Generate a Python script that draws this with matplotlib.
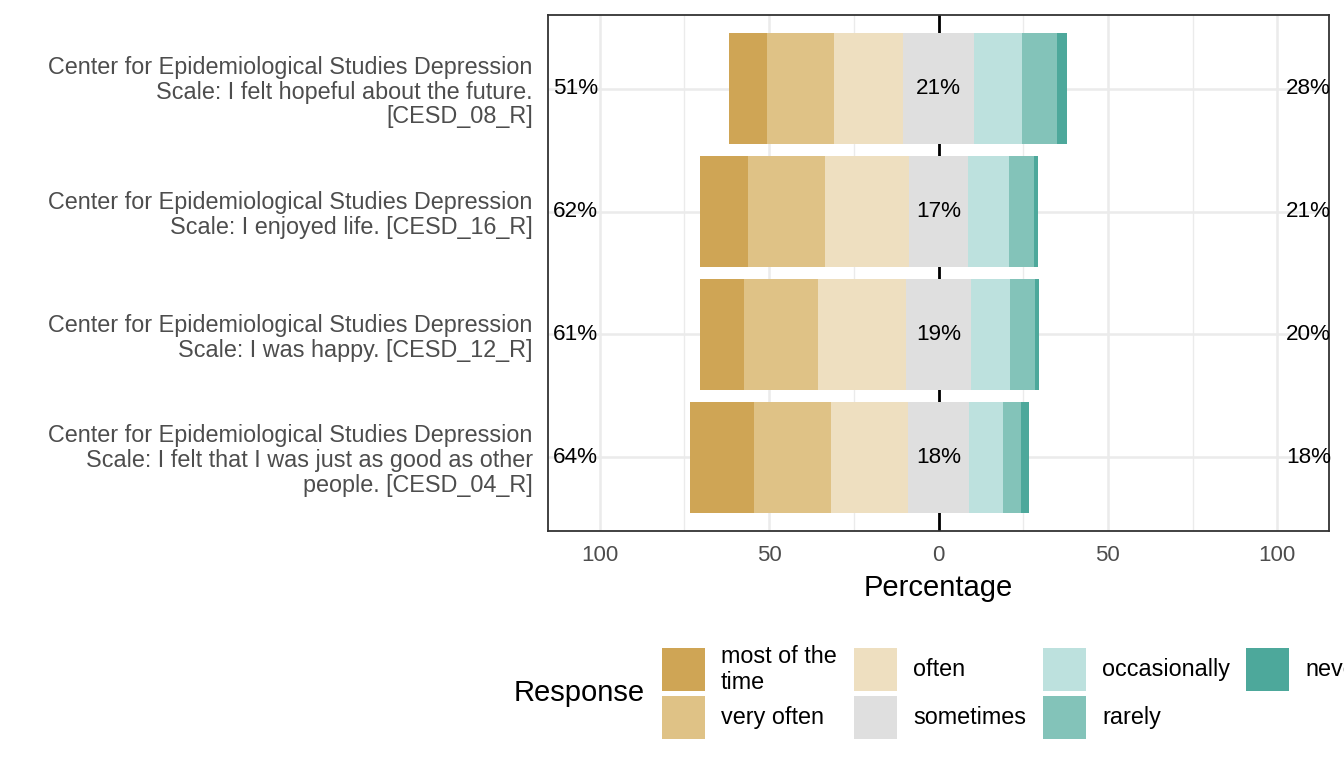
import matplotlib
matplotlib.use("Agg")
import matplotlib.pyplot as plt
from matplotlib.patches import Rectangle
from matplotlib.ticker import FuncFormatter, MultipleLocator

plt.rcParams['font.family'] = ['Liberation Sans', 'DejaVu Sans']

# items, top to bottom
items = [
    "Center for Epidemiological Studies Depression\nScale: I felt hopeful about the future.\n[CESD_08_R]",
    "Center for Epidemiological Studies Depression\nScale: I enjoyed life. [CESD_16_R]",
    "Center for Epidemiological Studies Depression\nScale: I was happy. [CESD_12_R]",
    "Center for Epidemiological Studies Depression\nScale: I felt that I was just as good as other\npeople. [CESD_04_R]",
]
responses = ["most of the time", "very often", "often", "sometimes",
             "occasionally", "rarely", "never"]
legend_labels = ["most of the\ntime", "very often", "often", "sometimes",
                 "occasionally", "rarely", "never"]
colors = ["#CFA555", "#DFC286", "#EEDFC0", "#DFDFDF", "#BDE1DE", "#83C3B9", "#4DA89B"]

# percent per response, one list per item (same order as items)
most_of_time = [11.3, 14.1, 12.9, 18.9]
very_often = [19.7, 22.8, 21.9, 22.8]
often = [20.4, 24.8, 26.1, 22.7]
sometimes = [20.9, 17.4, 19.1, 18.0]
occasionally = [14.3, 12.1, 11.5, 10.0]
rarely = [10.3, 7.4, 7.4, 5.4]
never = [3.0, 1.1, 1.1, 2.3]

series = [most_of_time, very_often, often, sometimes, occasionally, rarely, never]
n = len(items)
ypos = [n - 1 - i for i in range(n)]

fig = plt.figure(figsize=(13.44, 7.68), dpi=100)
ax = fig.add_axes([548 / 1344, 1 - 531 / 768, (1329 - 548) / 1344, (531 - 15) / 768])

# grid
ax.set_xticks([-100, -50, 0, 50, 100])
ax.xaxis.set_minor_locator(MultipleLocator(25))
ax.set_yticks(ypos)
ax.set_yticklabels(items)
ax.grid(True, which='major', color='#EBEBEB', lw=1.8, zorder=0)
ax.grid(True, which='minor', axis='x', color='#EBEBEB', lw=1.0, zorder=0)
ax.set_axisbelow(True)
ax.axvline(0, color='black', lw=2, zorder=1)

# stacked diverging bars
for i in range(n):
    left = -(most_of_time[i] + very_often[i] + often[i] + sometimes[i] / 2)
    for k, vals in enumerate(series):
        ax.barh(ypos[i], vals[i], left=left, height=0.9, color=colors[k], zorder=2)
        left += vals[i]
    low = most_of_time[i] + very_often[i] + often[i]
    high = occasionally[i] + rarely[i] + never[i]
    ax.text(-100.5, ypos[i], f"{round(low)}%", ha='right', va='center', fontsize=16.2, zorder=3)
    ax.text(0, ypos[i], f"{round(sometimes[i])}%", ha='center', va='center', fontsize=16.2, zorder=3)
    ax.text(102.6, ypos[i], f"{round(high)}%", ha='left', va='center', fontsize=16.2, zorder=3, clip_on=False)

ax.set_xlim(-115.3, 115.3)
ax.set_ylim(-0.6, n - 1 + 0.6)
ax.xaxis.set_major_formatter(FuncFormatter(lambda v, p: f"{abs(v):.0f}"))
ax.tick_params(axis='x', which='both', length=0, pad=10, labelsize=16, labelcolor='#4D4D4D')
ax.tick_params(axis='y', length=0, pad=11, labelsize=16.8, labelcolor='#4D4D4D')
for lab in ax.get_yticklabels():
    lab.set_linespacing(1.09)
ax.set_xlabel("Percentage", fontsize=21, labelpad=6)
for s in ax.spines.values():
    s.set_color('#333333')
    s.set_linewidth(1.3)

# legend, drawn by hand (columns of two)
W, H = 1344, 768
fig.text(514 / W, 1 - 693 / H, "Response", fontsize=21, ha='left', va='center')
col_x = [662, 854, 1043, 1246]
row_y = [648, 696]
for k, lab in enumerate(legend_labels):
    c, r = k // 2, k % 2
    x0, y0 = col_x[c], row_y[r]
    fig.add_artist(Rectangle((x0 / W, 1 - (y0 + 43) / H), 43 / W, 43 / H,
                             transform=fig.transFigure, color=colors[k], lw=0))
    fig.text((x0 + 59) / W, 1 - (y0 + 21.5) / H, lab, fontsize=16.8, ha='left',
             va='center', linespacing=1.12)

fig.savefig("out.png", dpi=100)
